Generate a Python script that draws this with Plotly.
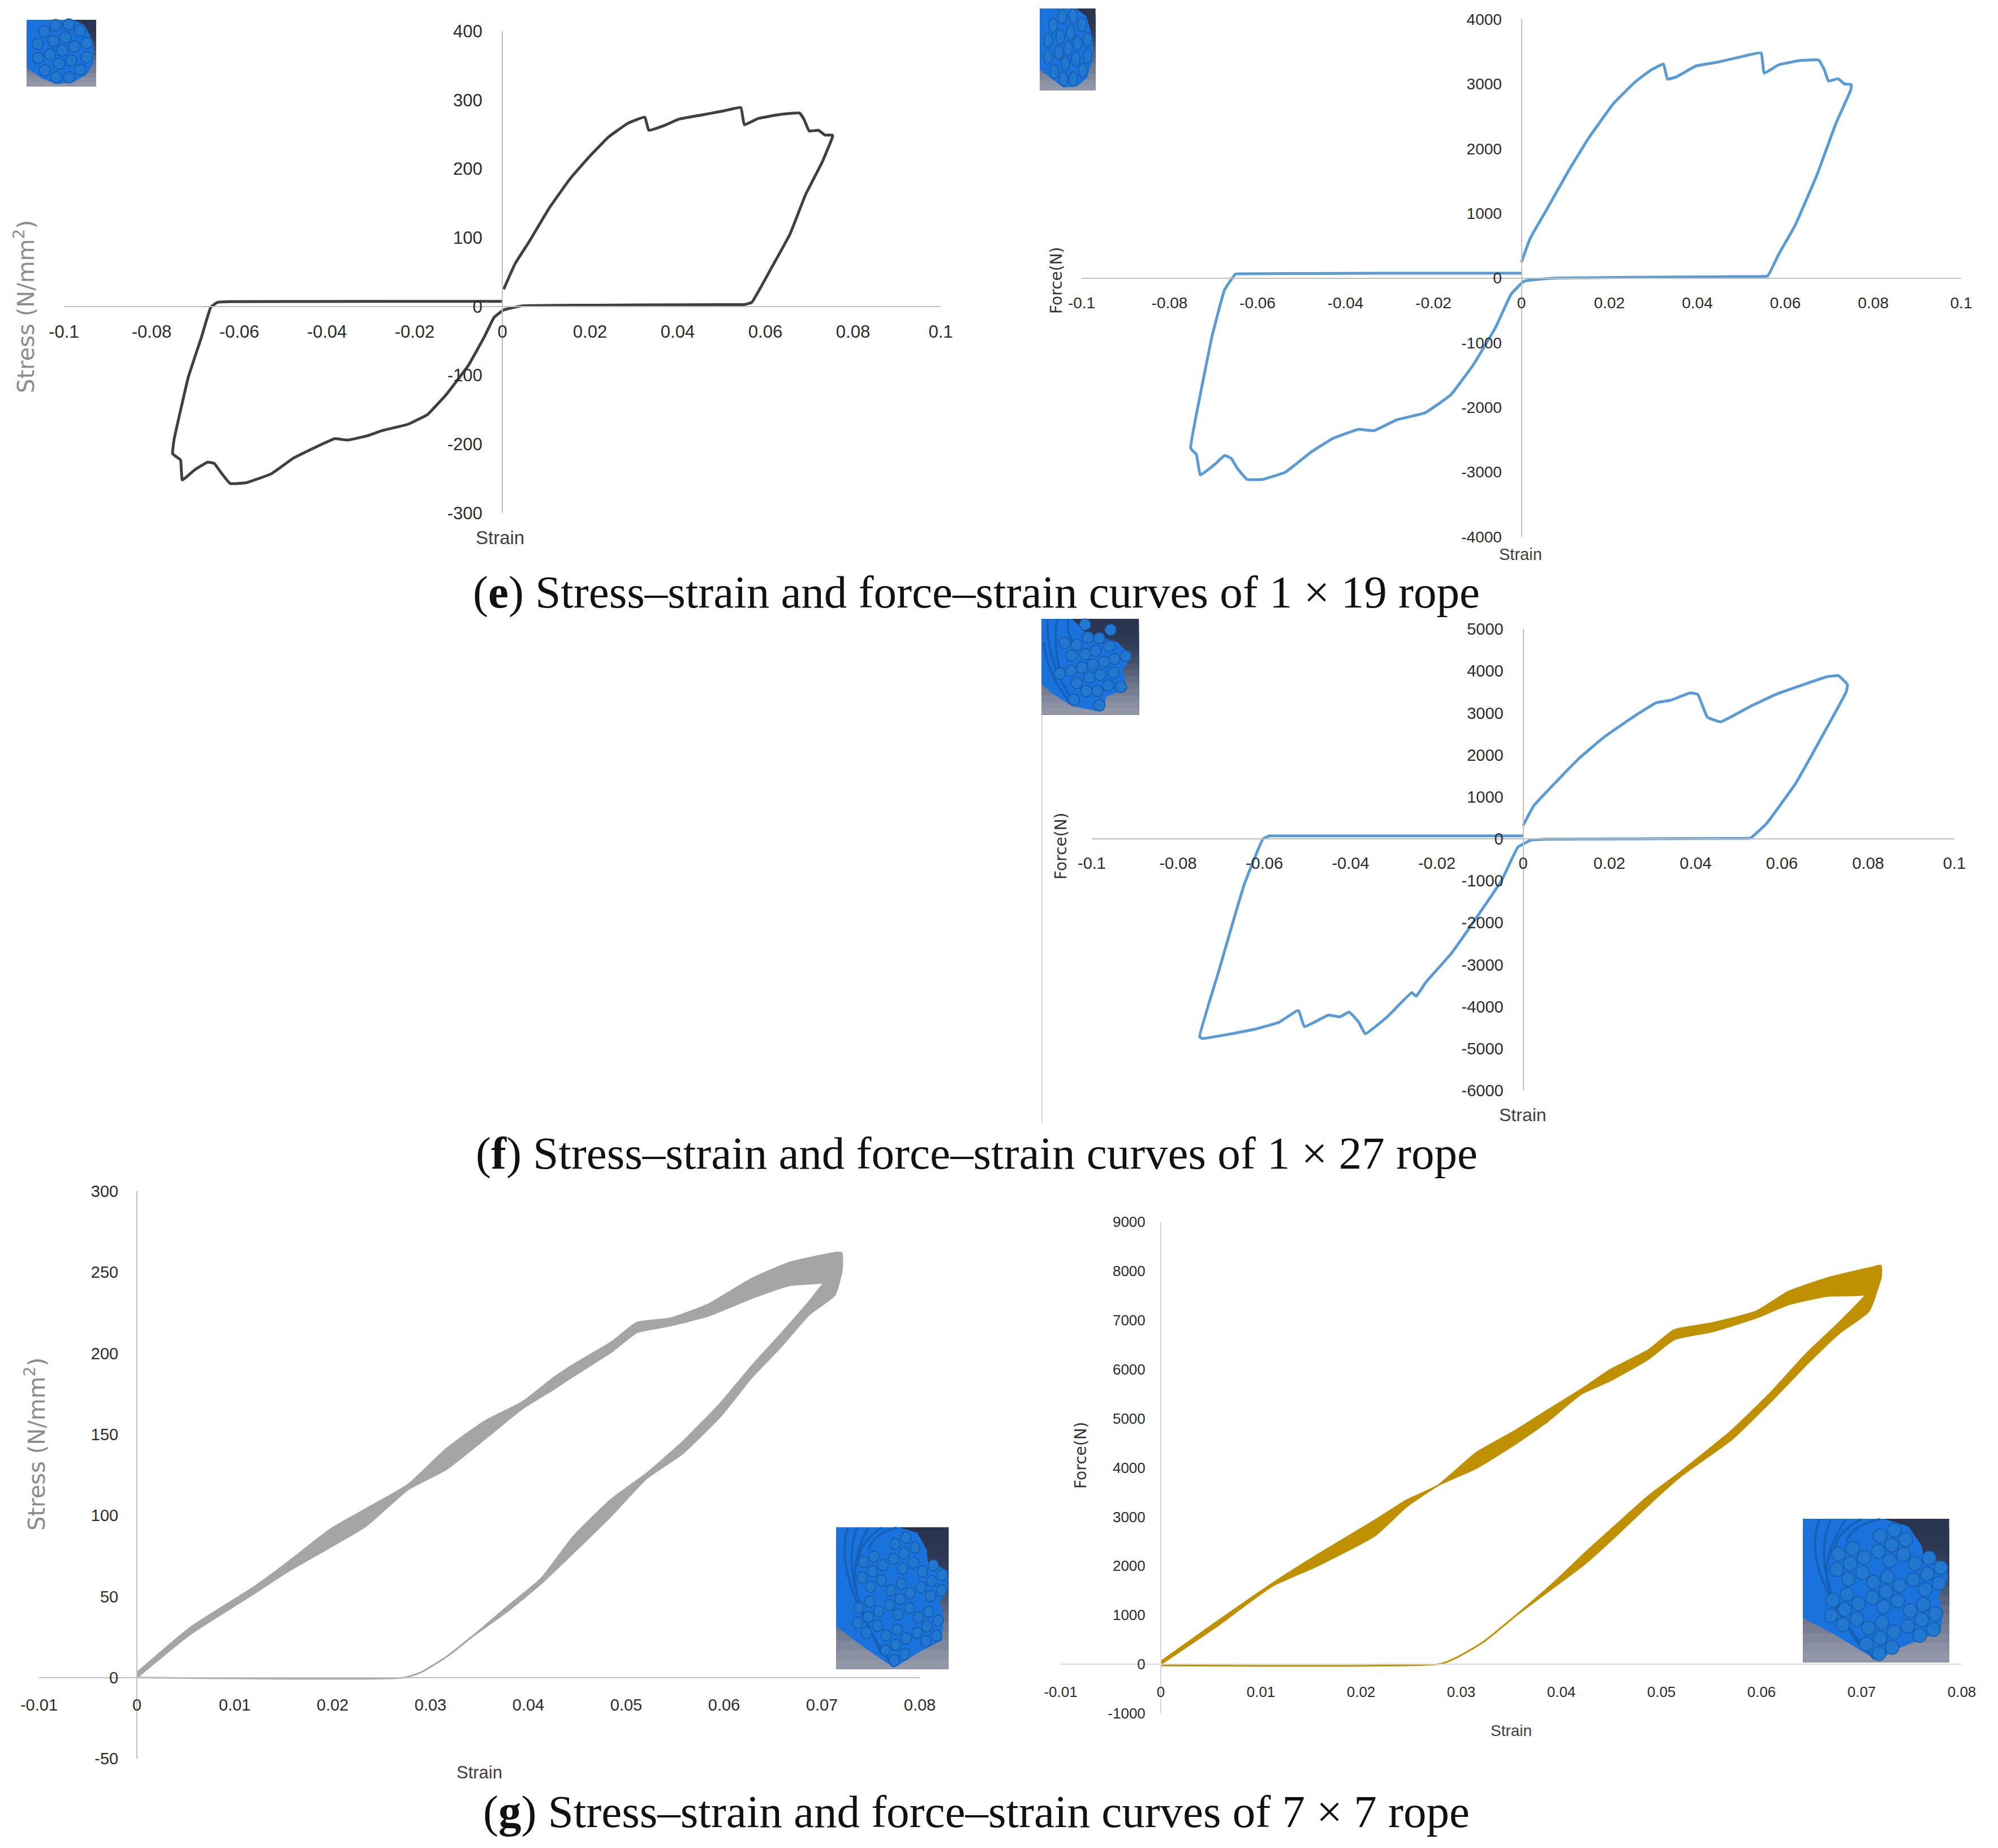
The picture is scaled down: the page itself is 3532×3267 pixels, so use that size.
#!/usr/bin/env python3
"""
Stress-strain and force-strain curves of the 1x19, 1x27 and 7x7 ropes
"""
import plotly.graph_objects as go

W, H = 3532, 3267
PAGE_MARGIN = 8  # the page body keeps its default margin

# (e) 1 x 19 stress-strain
e_stress_strain = [0.0003, 0.0029, 0.0061, 0.0107, 0.0155, 0.0199, 0.0242, 0.0286, 0.0325, 0.0334, 0.0366, 0.0402,
                   0.0453, 0.0504, 0.0544, 0.0552, 0.0583, 0.0634, 0.0678, 0.0688, 0.0700, 0.0721, 0.0736, 0.0753,
                   0.0753, 0.0729, 0.0692, 0.0656, 0.0612, 0.0569, 0.0554, 0.0530, 0.0308, 0.0046, 0.0003, -0.0019,
                   -0.0041, -0.0077, -0.0128, -0.0171, -0.0215, -0.0273, -0.0309, -0.0353, -0.0382, -0.0425, -0.0476,
                   -0.0527, -0.0585, -0.0621, -0.0643, -0.0657, -0.0672, -0.0701, -0.0730, -0.0734, -0.0752, -0.0749,
                   -0.0716, -0.0686, -0.0665, -0.0650, -0.0625, -0.0273, 0.0]
e_stress = [25, 62, 94, 143, 186, 218, 246, 266, 275, 256, 262, 272, 278, 284, 289, 264, 273, 279, 281, 272, 255, 256,
            249, 249, 246, 209, 163, 105, 54, 6, 3, 2.8, 2.3, 1, -5, -16, -44, -85, -128, -157, -171, -180, -188, -194,
            -192, -204, -220, -243, -256, -257, -240, -228, -226, -237, -252, -223, -214, -194, -102, -44, -1, 6, 7,
            7.5, 7.5]

# (e) 1 x 19 force-strain
e_force_strain = [0.0, 0.0020, 0.0056, 0.0107, 0.0151, 0.0209, 0.0259, 0.0295, 0.0323, 0.0332, 0.0353, 0.0397, 0.0447,
                  0.0498, 0.0545, 0.0552, 0.0585, 0.0636, 0.0676, 0.0689, 0.0698, 0.0720, 0.0734, 0.0750, 0.0749,
                  0.0715, 0.0672, 0.0621, 0.0585, 0.0560, 0.0545, 0.0404, 0.0085, 0.0042, 0.0006, -0.0023, -0.0059,
                  -0.0110, -0.0161, -0.0219, -0.0284, -0.0335, -0.0371, -0.0429, -0.0479, -0.0537, -0.0588, -0.0624,
                  -0.0646, -0.0660, -0.0675, -0.0697, -0.0730, -0.0739, -0.0752, -0.0733, -0.0704, -0.0675, -0.0650,
                  -0.0625, -0.0320, 0.0]
e_force = [245, 613, 1041, 1654, 2144, 2695, 3032, 3216, 3308, 3075, 3112, 3277, 3338, 3418, 3479, 3167, 3296, 3363,
           3369, 3216, 3044, 3081, 3002, 2989, 2910, 2389, 1593, 796, 368, 31, 25, 18, 0, -18, -49, -245, -766, -1348,
           -1807, -2083, -2193, -2358, -2340, -2481, -2695, -3002, -3112, -3112, -2940, -2787, -2744, -2879, -3044,
           -2726, -2634, -1899, -919, -184, 61, 66, 74, 74]

# (f) 1 x 27 force-strain
f_force_strain = [0.0, 0.0025, 0.0084, 0.0129, 0.0188, 0.0261, 0.0309, 0.0343, 0.0387, 0.0405, 0.0427, 0.0458, 0.0527,
                  0.0586, 0.0645, 0.0705, 0.0731, 0.0752, 0.0749, 0.0697, 0.0631, 0.0564, 0.0527, 0.0510, 0.0261,
                  0.0055, 0.0018, -0.0012, -0.0049, -0.0108, -0.0167, -0.0226, -0.0248, -0.0258, -0.0315, -0.0366,
                  -0.0381, -0.0403, -0.0425, -0.0451, -0.0507, -0.0521, -0.0566, -0.0625, -0.0743, -0.0750, -0.0706,
                  -0.0647, -0.0603, -0.0588, -0.0565, 0.0]
f_force = [318, 792, 1437, 1910, 2427, 2943, 3244, 3305, 3477, 3442, 2900, 2788, 3158, 3442, 3657, 3864, 3890, 3675,
           3503, 2513, 1308, 361, 17, 10, 0, -9, -34, -198, -972, -1876, -2737, -3425, -3752, -3666, -4243, -4647,
           -4372, -4131, -4243, -4200, -4475, -4088, -4372, -4544, -4759, -4716, -3167, -1102, 0, 69, 69, 69]

# (g) 7 x 7 curves are thick noisy bands, so each branch keeps an upper and a lower edge
g_stress_load_strain = [0.0, 0.0055, 0.0120, 0.0153, 0.0199, 0.0234, 0.0277, 0.0316, 0.0355, 0.0394, 0.0426, 0.0446,
                        0.0485, 0.0511, 0.0544, 0.0583, 0.0628, 0.0667, 0.0713, 0.0720]
g_stress_load_top = [3, 31, 56, 70.6, 92, 104, 119, 141, 158, 170, 185, 193, 207, 219, 221.5, 230, 246, 256, 262, 262]
g_stress_load_low = [0, 27, 52, 65, 81, 93.5, 116, 128.5, 147, 166, 178, 186, 201, 213, 217, 223, 234, 242, 244.5, 250]
g_stress_unload_strain = [0.0720, 0.0713, 0.0687, 0.0658, 0.0628, 0.0596, 0.0557, 0.0521, 0.0485, 0.0446, 0.0413,
                          0.0381, 0.0342, 0.0316, 0.0290, 0.0273, 0.0]
g_stress_unload_top = [262, 252.5, 232, 212, 192, 169, 145, 126, 110, 87, 61, 45, 25, 12.7, 3.2, 0, 0]
g_stress_unload_low = [250, 236, 224, 204, 185, 161, 138, 123, 100, 77, 58, 42, 25, 12.7, 3.2, 0, 0]

g_force_load_strain = [0.0, 0.0055, 0.0112, 0.0156, 0.0214, 0.0245, 0.0277, 0.0315, 0.0354, 0.0385, 0.0420, 0.0449,
                       0.0487, 0.0513, 0.0551, 0.0595, 0.0627, 0.0665, 0.0710, 0.0719]
g_force_load_top = [53, 850, 1650, 2220, 2930, 3330, 3640, 4300, 4750, 5150, 5590, 5990, 6390, 6800, 6940, 7180, 7580,
                    7850, 8070, 8110]
g_force_load_low = [0, 760, 1600, 2000, 2620, 3200, 3640, 3990, 4480, 4920, 5500, 5770, 6210, 6610, 6770, 7050, 7320,
                    7490, 7540, 7850]
g_force_unload_strain = [0.0719, 0.0707, 0.0678, 0.0646, 0.0608, 0.0570, 0.0519, 0.0487, 0.0455, 0.0424, 0.0392,
                         0.0354, 0.0322, 0.0296, 0.0280, 0.0]
g_force_unload_top = [8110, 7580, 6960, 6340, 5500, 4750, 3910, 3420, 2840, 2270, 1650, 980, 450, 140, 10, -25]
g_force_unload_low = [7850, 7180, 6740, 6120, 5320, 4570, 3820, 3240, 2620, 2050, 1560, 980, 450, 140, 10, -25]

# tick labels
wide_strain_ticks = [-0.1, -0.08, -0.06, -0.04, -0.02, 0, 0.02, 0.04, 0.06, 0.08, 0.1]
short_strain_ticks = [-0.01, 0, 0.01, 0.02, 0.03, 0.04, 0.05, 0.06, 0.07, 0.08]
e_stress_ticks = [-300, -200, -100, 0, 100, 200, 300, 400]
e_force_ticks = [-4000, -3000, -2000, -1000, 0, 1000, 2000, 3000, 4000]
f_force_ticks = [-6000, -5000, -4000, -3000, -2000, -1000, 0, 1000, 2000, 3000, 4000, 5000]
g_stress_ticks = [-50, 0, 50, 100, 150, 200, 250, 300]
g_force_ticks = [-1000, 0, 1000, 2000, 3000, 4000, 5000, 6000, 7000, 8000, 9000]

captions = ['(<b>e</b>) Stress–strain and force–strain curves of 1 × 19 rope',
            '(<b>f</b>) Stress–strain and force–strain curves of 1 × 27 rope',
            '(<b>g</b>) Stress–strain and force–strain curves of 7 × 7 rope']
caption_y = [1047, 2039, 3203]


def px(x):
    return (x - PAGE_MARGIN) / W


def py(y):
    return 1 - (y - PAGE_MARGIN) / H


# one entry per chart: pixel box, where the axes cross, look of the text
charts = [
    dict(box=(113, 55, 1663, 907), xticks=wide_strain_ticks, yticks=e_stress_ticks, color='#404040', width=5,
         x=e_stress_strain, y=e_stress, font=31, axis='#bfbfbf', xgap=17, ygap=28, strain=(884, 950), strain_font=33,
         ytitle='Stress (N/mm<sup>2</sup>)', ytitle_pos=(43, 542), ytitle_font=40, ytitle_color='#8c8c8c'),
    dict(box=(1912, 34, 3467, 949), xticks=wide_strain_ticks, yticks=e_force_ticks, color='#5b9bd5', width=5,
         x=e_force_strain, y=e_force, font=28, axis='#bfbfbf', xgap=19, ygap=28, strain=(2688, 980), strain_font=29,
         ytitle='Force(N)', ytitle_pos=(1867, 496), ytitle_font=28, ytitle_color='#333333'),
    dict(box=(1930, 1112, 3455, 1928), xticks=wide_strain_ticks, yticks=f_force_ticks, color='#5b9bd5', width=5,
         x=f_force_strain, y=f_force, font=29, axis='#bfbfbf', xgap=17, ygap=28, strain=(2692, 1971), strain_font=32,
         ytitle='Force(N)', ytitle_pos=(1875, 1496), ytitle_font=28, ytitle_color='#333333'),
    dict(box=(69, 2106, 1626, 3109), xticks=short_strain_ticks, yticks=g_stress_ticks, color='#a5a5a5', width=3,
         bands=[(g_stress_load_strain, g_stress_load_top, g_stress_load_low),
                (g_stress_unload_strain, g_stress_unload_top, g_stress_unload_low)],
         font=29, axis='#bfbfbf', xgap=22, ygap=26, strain=(847, 3133), strain_font=31,
         ytitle='Stress (N/mm<sup>2</sup>)', ytitle_pos=(62, 2553), ytitle_font=40, ytitle_color='#8c8c8c'),
    dict(box=(1875, 2160, 3468, 3029), xticks=short_strain_ticks, yticks=g_force_ticks, color='#bf9000', width=3,
         bands=[(g_force_load_strain, g_force_load_top, g_force_load_low),
                (g_force_unload_strain, g_force_unload_top, g_force_unload_low)],
         font=26, axis='#d9d9d9', xgap=26, ygap=21, strain=(2671, 3059), strain_font=28,
         ytitle='Force(N)', ytitle_pos=(1910, 2573), ytitle_font=28, ytitle_color='#333333'),
]

fig = go.Figure()
layout = {}
annotations = []

for i, c in enumerate(charts):
    suffix = '' if i == 0 else str(i + 1)
    x0, y0, x1, y1 = c['box']
    xr = [c['xticks'][0], c['xticks'][-1]]
    yr = [c['yticks'][0], c['yticks'][-1]]
    # pixel positions of the two zero lines, that is where the axes are hung
    zero_x = x0 + (0 - xr[0]) / (xr[1] - xr[0]) * (x1 - x0)
    zero_y = y1 - (0 - yr[0]) / (yr[1] - yr[0]) * (y1 - y0)

    if 'bands' in c:
        for strain, top, low in c['bands']:
            fig.add_trace(go.Scatter(x=strain + strain[::-1], y=top + low[::-1], mode='lines', fill='toself',
                                     fillcolor=c['color'],
                                     line=dict(color=c['color'], width=c['width'], shape='spline', smoothing=0.5),
                                     showlegend=False, xaxis='x' + suffix, yaxis='y' + suffix))
    else:
        fig.add_trace(go.Scatter(x=c['x'], y=c['y'], mode='lines',
                                 line=dict(color=c['color'], width=c['width'], shape='spline', smoothing=0.3),
                                 showlegend=False, xaxis='x' + suffix, yaxis='y' + suffix))

    tick_font = dict(family='Liberation Sans', size=c['font'], color='#2b2b2b')
    layout['xaxis' + suffix] = dict(
        domain=[px(x0), px(x1)], range=xr, anchor='free', position=py(zero_y), showgrid=False, zeroline=False,
        showline=True, linecolor=c['axis'], linewidth=2, ticks='', tickmode='array', tickvals=c['xticks'],
        ticktext=[str(t) for t in c['xticks']], tickfont=tick_font, ticklabelstandoff=c['xgap'])
    layout['yaxis' + suffix] = dict(
        domain=[py(y1), py(y0)], range=yr, anchor='free', position=px(zero_x), showgrid=False, zeroline=False,
        showline=True, linecolor=c['axis'], linewidth=2, ticks='', tickmode='array', tickvals=c['yticks'],
        ticktext=[str(t) for t in c['yticks']], tickfont=tick_font, ticklabelstandoff=c['ygap'])

    annotations.append(dict(text='Strain', x=px(c['strain'][0]), y=py(c['strain'][1]), xref='paper', yref='paper',
                            xanchor='center', yanchor='middle', showarrow=False,
                            font=dict(family='Liberation Sans', size=c['strain_font'], color='#404040')))
    annotations.append(dict(text=c['ytitle'], x=px(c['ytitle_pos'][0]), y=py(c['ytitle_pos'][1]), xref='paper',
                            yref='paper', xanchor='center', yanchor='middle', showarrow=False, textangle=-90,
                            font=dict(family='DejaVu Sans', size=c['ytitle_font'], color=c['ytitle_color'])))

for text, y in zip(captions, caption_y):
    annotations.append(dict(text=text, x=px(1726), y=py(y), xref='paper', yref='paper', xanchor='center',
                            yanchor='middle', showarrow=False,
                            font=dict(family='Liberation Serif', size=81, color='#111111')))

# rope cross-section pictures, drawn as flat shapes (coordinates are px in a 3x crop of each picture)
thumbs = [
    dict(origin=(40, 25), rect=(22, 30, 390, 383), rx=30, ry=30, strands=[],
         body=[(22, 30), (270, 30), (330, 60), (375, 150), (375, 260), (340, 320), (270, 360), (180, 372), (100, 340),
               (22, 285)],
         wires=[(175, 58), (245, 55), (303, 90), (115, 93), (227, 123), (163, 143), (340, 153), (80, 158), (275, 172),
                (210, 193), (145, 213), (340, 228), (82, 233), (258, 245), (194, 263), (118, 298), (307, 295),
                (178, 335), (247, 335)]),
    dict(origin=(1830, 8), rect=(24, 21, 320, 456), rx=23, ry=38, strands=[],
         body=[(24, 21), (215, 21), (270, 60), (305, 180), (305, 290), (275, 390), (220, 435), (150, 440), (24, 345)],
         wires=[(143, 65), (200, 62), (248, 108), (95, 110), (188, 150), (133, 172), (278, 185), (68, 190), (225, 205),
                (175, 232), (125, 255), (278, 275), (68, 278), (215, 290), (160, 312), (252, 350), (100, 355),
                (150, 395), (202, 395)]),
    dict(origin=(1835, 1085), rect=(18, 27, 535, 535), rx=30, ry=30,
         strands=[((50, 30), (40, 250), (190, 470)), ((100, 30), (80, 200), (120, 300)),
                  ((160, 30), (150, 100), (190, 160)), ((30, 150), (50, 330), (170, 470))],
         body=[(18, 27), (180, 27), (215, 60), (250, 100), (420, 150), (495, 225), (450, 300), (470, 400), (360, 440),
               (350, 510), (330, 520), (180, 490), (70, 420), (18, 370)],
         wires=[(250, 57), (385, 85), (265, 125), (325, 130), (140, 155), (205, 165), (378, 172), (305, 197),
                (250, 215), (178, 222), (465, 225), (405, 240), (350, 255), (290, 270), (232, 285), (115, 318),
                (175, 303), (400, 312), (330, 325), (272, 338), (205, 368), (372, 380), (440, 388), (315, 410),
                (255, 410), (190, 455), (325, 485)]),
    dict(origin=(1465, 2690), rect=(40, 30, 636, 782), rx=27, ry=30,
         strands=[((100, 32), (20, 300), (340, 770)), ((150, 32), (55, 280), (280, 700)),
                  ((210, 32), (90, 250), (170, 440)), ((280, 32), (150, 120), (150, 240)),
                  ((360, 32), (240, 60), (210, 150))],
         body=[(40, 30), (370, 30), (470, 60), (520, 150), (525, 210), (632, 260), (630, 370), (590, 420), (610, 500),
               (600, 630), (500, 680), (420, 730), (350, 775), (300, 745), (150, 640), (40, 555)],
         wires=[(410, 85), (352, 118), (458, 138), (240, 185), (400, 168), (343, 197), (185, 213), (450, 218),
                (288, 232), (555, 232), (392, 250), (497, 265), (232, 263), (603, 283), (176, 295), (545, 315),
                (280, 312), (385, 330), (490, 348), (222, 345), (597, 365), (330, 365), (432, 380), (540, 395),
                (378, 410), (216, 425), (160, 457), (322, 443), (427, 458), (265, 475), (530, 478), (367, 492),
                (210, 505), (475, 507), (153, 537), (580, 525), (258, 553), (520, 555), (363, 573), (468, 590),
                (200, 590), (572, 605), (305, 603), (412, 620), (515, 635), (355, 653), (300, 683), (403, 703),
                (348, 735)]),
    dict(origin=(3180, 2675), rect=(22, 30, 797, 790), rx=36, ry=37,
         strands=[((110, 32), (0, 320), (400, 775)), ((170, 32), (50, 300), (320, 700)),
                  ((250, 32), (100, 250), (170, 440)), ((330, 32), (170, 120), (190, 230)),
                  ((430, 32), (290, 60), (250, 150))],
         body=[(22, 30), (450, 30), (580, 70), (650, 170), (660, 220), (790, 280), (785, 370), (740, 440), (765, 530),
               (750, 630), (620, 680), (500, 730), (425, 785), (380, 760), (200, 650), (22, 555)],
         wires=[(505, 90), (430, 122), (568, 140), (285, 187), (493, 170), (422, 203), (210, 217), (555, 220),
                (346, 235), (690, 238), (482, 253), (617, 268), (272, 268), (753, 290), (201, 300), (681, 322),
                (338, 317), (470, 337), (607, 353), (262, 350), (743, 372), (396, 367), (534, 385), (670, 405),
                (462, 418), (255, 430), (179, 462), (390, 448), (525, 465), (316, 480), (660, 485), (450, 497),
                (243, 511), (590, 517), (725, 534), (170, 543), (308, 562), (652, 565), (441, 580), (577, 600),
                (233, 592), (368, 609), (714, 617), (505, 630), (640, 648), (432, 662), (358, 693), (495, 712),
                (425, 745)]),
]
backdrop = ['#29354f', '#2a3651', '#2c3853', '#2f3b56', '#333f5a', '#3a4661', '#434e68', '#4d5871', '#58627a',
            '#636d83', '#6e778c', '#787f94', '#82889b', '#8b90a3', '#9196a8']

shapes = []
for t in thumbs:
    ox, oy = t['origin']
    fx = lambda v: px(ox + v / 3)
    fy = lambda v: py(oy + v / 3)
    rx0, ry0, rx1, ry1 = t['rect']
    step = (ry1 - ry0) / len(backdrop)
    for n, col in enumerate(backdrop):
        # every band runs to the bottom, so no white seams show between them
        shapes.append(dict(type='rect', xref='paper', yref='paper', x0=fx(rx0), x1=fx(rx1),
                           y0=fy(ry0 + n * step), y1=fy(ry1), fillcolor=col, line_width=0))
    path = 'M ' + ' L '.join(f'{fx(a):.5f} {fy(b):.5f}' for a, b in t['body']) + ' Z'
    shapes.append(dict(type='path', path=path, xref='paper', yref='paper', fillcolor='#1a72dc', line_width=0))
    for s, m, e in t['strands']:
        arc = f'M {fx(s[0]):.5f} {fy(s[1]):.5f} Q {fx(m[0]):.5f} {fy(m[1]):.5f} {fx(e[0]):.5f} {fy(e[1]):.5f}'
        shapes.append(dict(type='path', path=arc, xref='paper', yref='paper', line=dict(color='#1560b8', width=4)))
    for a, b in t['wires']:
        shapes.append(dict(type='circle', xref='paper', yref='paper', x0=fx(a - t['rx']), x1=fx(a + t['rx']),
                           y0=fy(b + t['ry']), y1=fy(b - t['ry']), fillcolor='#2278cf',
                           line=dict(color='#1559a8', width=1.5)))

# stray frame line left over at the side of the 1 x 27 force chart
shapes.append(dict(type='line', xref='paper', yref='paper', x0=px(1842), x1=px(1842), y0=py(1265), y1=py(1986),
                   line=dict(color='#d9d9d9', width=2)))

fig.update_layout(
    width=W, height=H, autosize=False,
    margin=dict(l=0, r=0, t=0, b=0, autoexpand=False),
    paper_bgcolor='white', plot_bgcolor='white',
    showlegend=False,
    annotations=annotations,
    shapes=shapes,
    **layout
)

fig.write_html("out.html")
